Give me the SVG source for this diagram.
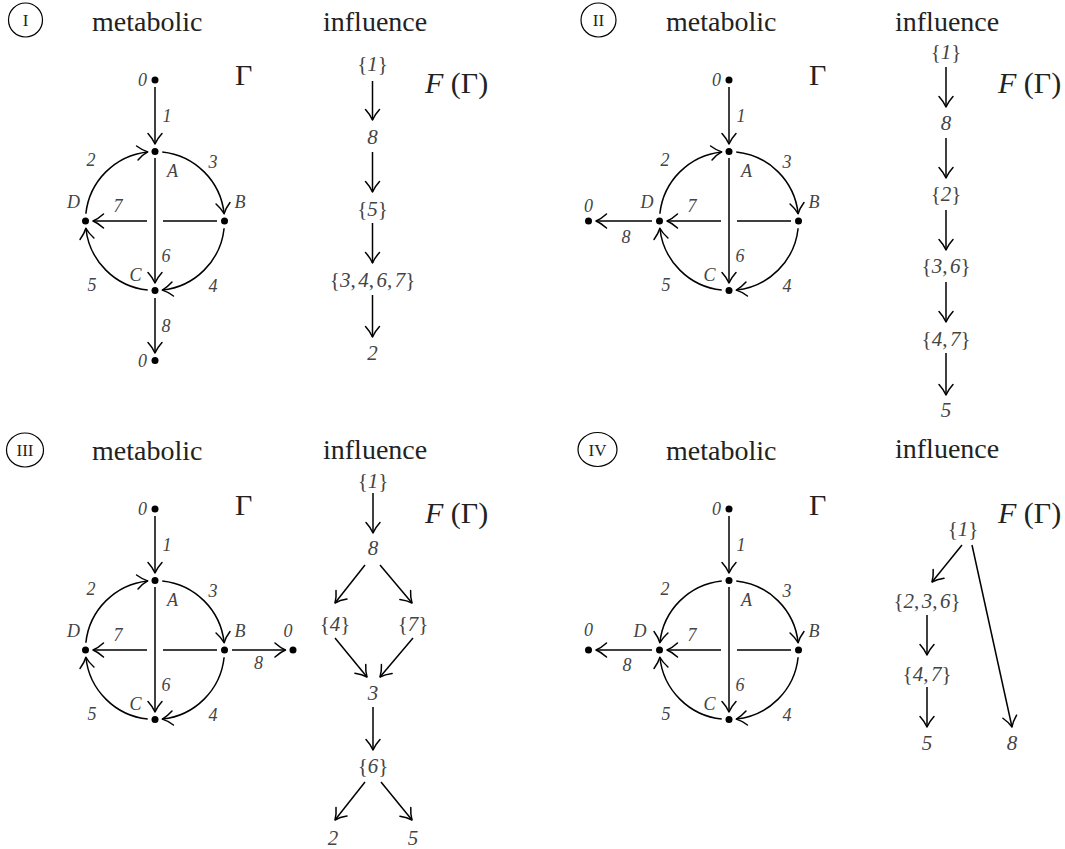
<svg xmlns="http://www.w3.org/2000/svg" width="1065" height="849" viewBox="0 0 1065 849">
<style>
.ttl{font-family:"Liberation Serif",serif;font-size:28px;fill:#222}
.lb{font-family:"Liberation Serif",serif;font-size:18px;font-style:italic;fill:#444;text-anchor:middle}
.il{font-family:"Liberation Serif",serif;font-size:21px;fill:#444;text-anchor:middle}
.i{font-style:italic}
.big{font-family:"Liberation Serif",serif;font-size:30px;fill:#222}
.rn{font-family:"Liberation Serif",serif;font-size:17px;text-anchor:middle;fill:#222}
.e{fill:none;stroke:#000;stroke-width:1.5;marker-end:url(#ar)}
.dot{fill:#000}
.rc{fill:none;stroke:#000;stroke-width:1.2}
</style>
<defs>
<marker id="ar" viewBox="-13 -9 15 18" markerWidth="15" markerHeight="18" refX="0" refY="0" orient="auto" markerUnits="userSpaceOnUse">
<path d="M-10.5,-7 Q-5,-2 0,0 Q-5,2 -10.5,7" fill="none" stroke="#000" stroke-width="1.5" stroke-linecap="round" stroke-linejoin="round"/>
</marker>
</defs>

<!-- ============ Panel I ============ -->
<g id="panel1">
<g id="tag1"><ellipse class="rc" cx="25.5" cy="20" rx="17" ry="17"/><text class="rn" x="25.5" y="26">I</text></g>
<text class="ttl" x="92" y="31">metabolic</text>
<text class="ttl" x="323" y="31">influence</text>
<text class="big" x="235" y="85">Γ</text>
<text class="big" x="425" y="93"><tspan class="i">F</tspan> (Γ)</text>
<g id="met1">
<g id="met1-edges">
<path class="e" d="M155,87 V144"/>
<path class="e" d="M85.88,213.74 A69.5,69.5 0 0 1 147.74,151.88"/>
<path class="e" d="M162.27,151.88 A69.5,69.5 0 0 1 224.12,213.74"/>
<path class="e" d="M224.12,228.27 A69.5,69.5 0 0 1 162.27,290.12"/>
<path class="e" d="M147.74,290.12 A69.5,69.5 0 0 1 85.88,228.27"/>
<path class="e" d="M155,158 V283"/>
<path class="e" d="M217,221 H163 M147,221 H93"/>
<path class="e" d="M155,298 V353"/>
<text class="lb" x="167" y="122">1</text>
<text class="lb" x="91" y="166">2</text>
<text class="lb" x="213" y="168">3</text>
<text class="lb" x="213" y="292">4</text>
<text class="lb" x="92" y="291">5</text>
<text class="lb" x="166" y="262">6</text>
<text class="lb" x="118" y="212">7</text>
<text class="lb" x="166" y="332">8</text>
</g>
<g id="met1-0in"><circle class="dot" cx="155" cy="80" r="3.5"/><text class="lb" x="142.5" y="86">0</text></g>
<g id="met1-A"><circle class="dot" cx="155" cy="151.5" r="3.5"/><text class="lb" x="172.5" y="177">A</text></g>
<g id="met1-B"><circle class="dot" cx="224.5" cy="221" r="3.5"/><text class="lb" x="240" y="208">B</text></g>
<g id="met1-C"><circle class="dot" cx="155" cy="290.5" r="3.5"/><text class="lb" x="135.5" y="281">C</text></g>
<g id="met1-D"><circle class="dot" cx="85.5" cy="221" r="3.5"/><text class="lb" x="73.5" y="208">D</text></g>
<g id="met1-0out"><circle class="dot" cx="155" cy="360.5" r="3.5"/><text class="lb" x="142.5" y="367">0</text></g>
</g>
<g id="inf1">
<g id="inf1-edges">
<path class="e" d="M372.5,81 V120"/>
<path class="e" d="M372.5,152 V192"/>
<path class="e" d="M372.5,223 V263"/>
<path class="e" d="M372.5,295 V337"/>
</g>
<g id="inf1-n1"><text class="il" x="372.5" y="71">{<tspan class="i">1</tspan>}</text></g>
<g id="inf1-n8"><text class="il i" x="372.5" y="144">8</text></g>
<g id="inf1-n5"><text class="il" x="372.5" y="216">{<tspan class="i">5</tspan>}</text></g>
<g id="inf1-n3467"><text class="il" x="372.5" y="287">{<tspan class="i">3</tspan>,<tspan class="i" dx="2.5">4</tspan>,<tspan class="i" dx="2.5">6</tspan>,<tspan class="i" dx="2.5">7</tspan>}</text></g>
<g id="inf1-n2"><text class="il i" x="372.5" y="360">2</text></g>
</g>
</g>

<!-- ============ Panel II ============ -->
<g id="panel2">
<g id="tag2"><ellipse class="rc" cx="598.5" cy="20" rx="17.5" ry="17"/><text class="rn" x="598.5" y="26">II</text></g>
<text class="ttl" x="666" y="31">metabolic</text>
<text class="ttl" x="895" y="31">influence</text>
<text class="big" x="809" y="85">Γ</text>
<text class="big" x="998" y="93"><tspan class="i">F</tspan> (Γ)</text>
<g id="met2" transform="translate(574,0)">
<g id="met2-edges">
<path class="e" d="M155,87 V144"/>
<path class="e" d="M85.88,213.74 A69.5,69.5 0 0 1 147.74,151.88"/>
<path class="e" d="M162.27,151.88 A69.5,69.5 0 0 1 224.12,213.74"/>
<path class="e" d="M224.12,228.27 A69.5,69.5 0 0 1 162.27,290.12"/>
<path class="e" d="M147.74,290.12 A69.5,69.5 0 0 1 85.88,228.27"/>
<path class="e" d="M155,158 V283"/>
<path class="e" d="M217,221 H163 M147,221 H93"/>
<path class="e" d="M78,221 H22"/>
<text class="lb" x="167" y="122">1</text>
<text class="lb" x="91" y="166">2</text>
<text class="lb" x="213" y="168">3</text>
<text class="lb" x="213" y="292">4</text>
<text class="lb" x="92" y="291">5</text>
<text class="lb" x="166" y="262">6</text>
<text class="lb" x="118" y="212">7</text>
<text class="lb" x="52" y="243">8</text>
</g>
<g id="met2-0in"><circle class="dot" cx="155" cy="80" r="3.5"/><text class="lb" x="142.5" y="86">0</text></g>
<g id="met2-A"><circle class="dot" cx="155" cy="151.5" r="3.5"/><text class="lb" x="172.5" y="177">A</text></g>
<g id="met2-B"><circle class="dot" cx="224.5" cy="221" r="3.5"/><text class="lb" x="240" y="208">B</text></g>
<g id="met2-C"><circle class="dot" cx="155" cy="290.5" r="3.5"/><text class="lb" x="135.5" y="281">C</text></g>
<g id="met2-D"><circle class="dot" cx="85.5" cy="221" r="3.5"/><text class="lb" x="73" y="208">D</text></g>
<g id="met2-0out"><circle class="dot" cx="14.5" cy="221" r="3.5"/><text class="lb" x="14.5" y="212">0</text></g>
</g>
<g id="inf2">
<g id="inf2-edges">
<path class="e" d="M946,67 V107"/>
<path class="e" d="M946,138 V178"/>
<path class="e" d="M946,210 V250"/>
<path class="e" d="M946,282 V322"/>
<path class="e" d="M946,353 V395"/>
</g>
<g id="inf2-n1"><text class="il" x="946" y="59">{<tspan class="i">1</tspan>}</text></g>
<g id="inf2-n8"><text class="il i" x="946" y="130">8</text></g>
<g id="inf2-n2"><text class="il" x="946" y="201">{<tspan class="i">2</tspan>}</text></g>
<g id="inf2-n36"><text class="il" x="946" y="273">{<tspan class="i">3</tspan>,<tspan class="i" dx="2.5">6</tspan>}</text></g>
<g id="inf2-n47"><text class="il" x="946" y="346">{<tspan class="i">4</tspan>,<tspan class="i" dx="2.5">7</tspan>}</text></g>
<g id="inf2-n5"><text class="il i" x="946" y="417">5</text></g>
</g>
</g>

<!-- ============ Panel III ============ -->
<g id="panel3">
<g id="tag3"><ellipse class="rc" cx="25" cy="450" rx="18.5" ry="17"/><text class="rn" x="25" y="456">III</text></g>
<text class="ttl" x="92" y="460">metabolic</text>
<text class="ttl" x="323" y="459">influence</text>
<text class="big" x="235" y="515">Γ</text>
<text class="big" x="425" y="523"><tspan class="i">F</tspan> (Γ)</text>
<g id="met3" transform="translate(0,429)">
<g id="met3-edges">
<path class="e" d="M155,87 V144"/>
<path class="e" d="M85.88,213.74 A69.5,69.5 0 0 1 147.74,151.88"/>
<path class="e" d="M162.27,151.88 A69.5,69.5 0 0 1 224.12,213.74"/>
<path class="e" d="M224.12,228.27 A69.5,69.5 0 0 1 162.27,290.12"/>
<path class="e" d="M147.74,290.12 A69.5,69.5 0 0 1 85.88,228.27"/>
<path class="e" d="M155,158 V283"/>
<path class="e" d="M217,221 H163 M147,221 H93"/>
<path class="e" d="M232,221 H285.5"/>
<text class="lb" x="167" y="122">1</text>
<text class="lb" x="91" y="166">2</text>
<text class="lb" x="213" y="168">3</text>
<text class="lb" x="213" y="292">4</text>
<text class="lb" x="92" y="291">5</text>
<text class="lb" x="166" y="262">6</text>
<text class="lb" x="118" y="212">7</text>
<text class="lb" x="258.5" y="240">8</text>
</g>
<g id="met3-0in"><circle class="dot" cx="155" cy="80" r="3.5"/><text class="lb" x="142.5" y="86">0</text></g>
<g id="met3-A"><circle class="dot" cx="155" cy="151.5" r="3.5"/><text class="lb" x="172.5" y="177">A</text></g>
<g id="met3-B"><circle class="dot" cx="224.5" cy="221" r="3.5"/><text class="lb" x="240" y="208">B</text></g>
<g id="met3-C"><circle class="dot" cx="155" cy="290.5" r="3.5"/><text class="lb" x="135.5" y="281">C</text></g>
<g id="met3-D"><circle class="dot" cx="85.5" cy="221" r="3.5"/><text class="lb" x="73.5" y="208">D</text></g>
<g id="met3-0out"><circle class="dot" cx="293" cy="221" r="3.5"/><text class="lb" x="288" y="208">0</text></g>
</g>
<g id="inf3">
<g id="inf3-edges">
<path class="e" d="M373,493 V533"/>
<path class="e" d="M365,565 L335,603"/>
<path class="e" d="M380,565 L412,603"/>
<path class="e" d="M335,638 L367,677"/>
<path class="e" d="M413,638 L380,677"/>
<path class="e" d="M373,707 V750"/>
<path class="e" d="M365,782 L335,820"/>
<path class="e" d="M381,782 L412,820"/>
</g>
<g id="inf3-n1"><text class="il" x="373" y="488">{<tspan class="i">1</tspan>}</text></g>
<g id="inf3-n8"><text class="il i" x="373" y="555">8</text></g>
<g id="inf3-n4"><text class="il" x="335" y="631">{<tspan class="i">4</tspan>}</text></g>
<g id="inf3-n7"><text class="il" x="413" y="631">{<tspan class="i">7</tspan>}</text></g>
<g id="inf3-n3"><text class="il i" x="373" y="700">3</text></g>
<g id="inf3-n6"><text class="il" x="373" y="773">{<tspan class="i">6</tspan>}</text></g>
<g id="inf3-n2"><text class="il i" x="333" y="845">2</text></g>
<g id="inf3-n5"><text class="il i" x="413" y="845">5</text></g>
</g>
</g>

<!-- ============ Panel IV ============ -->
<g id="panel4">
<g id="tag4"><ellipse class="rc" cx="597.5" cy="449.5" rx="19.5" ry="17"/><text class="rn" x="597.5" y="455.5">IV</text></g>
<text class="ttl" x="666" y="460">metabolic</text>
<text class="ttl" x="895" y="458">influence</text>
<text class="big" x="809" y="515">Γ</text>
<text class="big" x="998" y="523"><tspan class="i">F</tspan> (Γ)</text>
<g id="met4" transform="translate(574,429)">
<g id="met4-edges">
<path class="e" d="M155,87 V144"/>
<path class="e" d="M147.74,151.88 A69.5,69.5 0 0 0 85.88,213.74"/>
<path class="e" d="M162.27,151.88 A69.5,69.5 0 0 1 224.12,213.74"/>
<path class="e" d="M224.12,228.27 A69.5,69.5 0 0 1 162.27,290.12"/>
<path class="e" d="M147.74,290.12 A69.5,69.5 0 0 1 85.88,228.27"/>
<path class="e" d="M155,158 V283"/>
<path class="e" d="M217,221 H163 M147,221 H93"/>
<path class="e" d="M78,221 H22"/>
<text class="lb" x="167" y="122">1</text>
<text class="lb" x="91" y="166">2</text>
<text class="lb" x="213" y="168">3</text>
<text class="lb" x="213" y="292">4</text>
<text class="lb" x="92" y="291">5</text>
<text class="lb" x="166" y="262">6</text>
<text class="lb" x="118" y="212">7</text>
<text class="lb" x="53" y="242">8</text>
</g>
<g id="met4-0in"><circle class="dot" cx="155" cy="80" r="3.5"/><text class="lb" x="142.5" y="86">0</text></g>
<g id="met4-A"><circle class="dot" cx="155" cy="151.5" r="3.5"/><text class="lb" x="172.5" y="177">A</text></g>
<g id="met4-B"><circle class="dot" cx="224.5" cy="221" r="3.5"/><text class="lb" x="240" y="208">B</text></g>
<g id="met4-C"><circle class="dot" cx="155" cy="290.5" r="3.5"/><text class="lb" x="135.5" y="281">C</text></g>
<g id="met4-D"><circle class="dot" cx="85.5" cy="221" r="3.5"/><text class="lb" x="66" y="208">D</text></g>
<g id="met4-0out"><circle class="dot" cx="14.5" cy="221" r="3.5"/><text class="lb" x="14.5" y="207">0</text></g>
</g>
<g id="inf4">
<g id="inf4-edges">
<path class="e" d="M962,545 L932,582"/>
<path class="e" d="M972,545 L1012,727"/>
<path class="e" d="M927,615 V655"/>
<path class="e" d="M927,687 V727"/>
</g>
<g id="inf4-n1"><text class="il" x="963" y="536">{<tspan class="i">1</tspan>}</text></g>
<g id="inf4-n236"><text class="il" x="927" y="608">{<tspan class="i">2</tspan>,<tspan class="i" dx="2.5">3</tspan>,<tspan class="i" dx="2.5">6</tspan>}</text></g>
<g id="inf4-n47"><text class="il" x="927" y="681">{<tspan class="i">4</tspan>,<tspan class="i" dx="2.5">7</tspan>}</text></g>
<g id="inf4-n5"><text class="il i" x="927" y="750">5</text></g>
<g id="inf4-n8"><text class="il i" x="1012" y="750">8</text></g>
</g>
</g>
</svg>
